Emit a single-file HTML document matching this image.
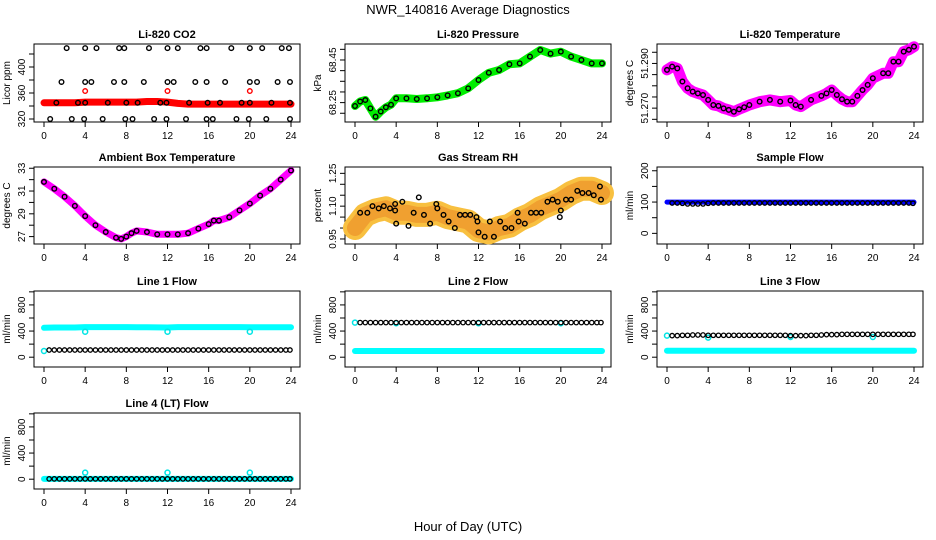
<!DOCTYPE html>
<html><head><meta charset="utf-8"><style>
html,body{margin:0;padding:0;background:#fff;}
svg{display:block;font-family:"Liberation Sans",sans-serif;}
</style></head><body>
<svg id="chart" width="936" height="540" viewBox="0 0 936 540" xmlns="http://www.w3.org/2000/svg">
<rect x="0" y="0" width="936" height="540" fill="#fff"/>
<text x="468" y="14" font-size="13" text-anchor="middle">NWR_140816  Average Diagnostics</text>
<text x="468" y="531" font-size="13" text-anchor="middle">Hour of Day (UTC)</text>
</svg>
<script>
// ---------- data ----------
const xTicks=[0,4,8,12,16,20,24];
const halfHours=[0.5,1,1.5,2,2.5,3,3.5,4,4.5,5,5.5,6,6.5,7,7.5,8,8.5,9,9.5,10,10.5,11,11.5,12,12.5,13,13.5,14,14.5,15,15.5,16,16.5,17,17.5,18,18.5,19,19.5,20,20.5,21,21.5,22,22.5,23,23.5,23.9];
const hourly=[0,1,2,3,4,5,6,7,8,9,10,11,12,13,14,15,16,17,18,19,20,21,22,23,24];

// CO2
const co2BandVals=[345,345,345,345,346,346,346,346,346,346,347,347,346,344,343,343,343,343,343,343,343,343,343,343,343];
const co2OutHours=[4,12,20];
const co2OutVals=[363,363,363];
const co2H429=[2.2,4,5.1,7.3,7.8,10.2,12,13,15.2,15.8,18.2,20,21.2,23.1,23.8];
const co2H377=[1.7,4,4.6,6.8,7.8,9.7,12,12.6,14.7,15.8,17.6,20,20.7,22.7,23.9];
const co2H345=[1.2,3.3,4,6.2,8,9.1,11.3,11.9,14.1,15.9,17.1,19.2,20,22.1,23.9];
const co2H320=[0.6,2.7,3.9,5.7,7.9,8.6,10.7,11.9,13.8,15.8,16.4,18.7,19.9,21.6,23.9];
const co2Levels=[429,377,345,320];
const co2Ticks=[320,340,360,380,400,420];
const co2Labels=[320,360,400];

// Pressure
const presHours=[0,0.5,1,1.5,2,2.5,3,3.5,4,5,6,7,8,9,10,11,12,13,14,15,16,17,18,19,20,21,22,23,24];
const presVals=[68.234,68.255,68.262,68.223,68.184,68.208,68.228,68.240,68.270,68.270,68.267,68.270,68.275,68.284,68.294,68.317,68.356,68.390,68.403,68.430,68.434,68.466,68.497,68.480,68.489,68.466,68.450,68.434,68.434];
const presTicks=[68.20,68.25,68.30,68.35,68.40,68.45,68.50];
const presLabels=[68.25,68.45];

// Li-820 temperature
const tempHours=[0,0.5,1,1.5,2,2.5,3,3.5,4,4.5,5,5.5,6,6.5,7,7.5,8,9,10,11,12,12.5,13,14,15,15.5,16,16.5,17,17.5,18,18.5,19,19.5,20,21,21.5,22,22.5,23,23.5,24];
const tempVals=[51.2871,51.2886,51.2878,51.2819,51.2789,51.2774,51.2766,51.2759,51.2737,51.2714,51.2710,51.2699,51.2692,51.2684,51.2695,51.2704,51.2714,51.2729,51.2737,51.2729,51.2734,51.2714,51.2707,51.2737,51.2755,51.2766,51.2781,51.2759,51.2740,51.2729,51.2729,51.2755,51.2781,51.2804,51.2834,51.2856,51.2856,51.2908,51.2908,51.2953,51.2961,51.2975];
const tempTicks=[51.265,51.270,51.275,51.280,51.285,51.290,51.295];
const tempLabels=[51.270,51.290];

// Ambient box temp
const ambHours=[0,1,2,3,4,5,6,7,7.5,8,8.5,9,10,11,12,13,14,15,16,16.5,17,18,19,20,21,22,23,24];
const ambVals=[31.8,31.2,30.5,29.7,28.8,28.0,27.4,26.9,26.8,27.0,27.3,27.5,27.4,27.2,27.2,27.2,27.3,27.7,28.1,28.4,28.4,28.7,29.3,29.9,30.6,31.2,32.0,32.8];
const ambTicks=[27,28,29,30,31,32,33];
const ambLabels=[27,29,31,33];

// Gas stream RH
const rhBandVals=[1.00,1.06,1.08,1.09,1.07,1.07,1.06,1.06,1.07,1.05,1.04,1.03,0.99,0.98,1.00,1.01,1.04,1.06,1.09,1.11,1.13,1.16,1.18,1.18,1.16];
const rhPtHours=[0.5,1.2,1.7,2.3,2.8,3.4,3.9,3.9,4,4.6,5.2,5.7,6.2,6.7,7.3,7.9,8,8.6,9.1,9.7,10.2,10.7,11.2,11.8,11.9,12,12.6,13.1,13.5,14.1,14.6,15.2,15.8,15.9,16.5,17.1,17.6,18.1,18.7,19.2,19.7,19.9,20,20.5,21,21.6,22.1,22.7,23.2,23.8,23.9];
const rhPtVals=[1.07,1.07,1.10,1.09,1.10,1.09,1.08,1.11,1.02,1.12,1.01,1.07,1.14,1.06,1.02,1.11,1.09,1.06,1.03,1.00,1.06,1.06,1.06,1.05,1.03,0.98,0.96,1.03,0.96,1.03,1.00,1.00,1.07,1.03,1.02,1.07,1.07,1.07,1.12,1.13,1.12,1.05,1.08,1.13,1.13,1.17,1.16,1.16,1.15,1.19,1.13];
const rhTicks=[0.95,1.00,1.05,1.10,1.15,1.20,1.25];
const rhLabels=[0.95,1.10,1.25];

// Sample flow
const sfBandVals=[100,100,100,100,100,100,100,100,100,100,100,100,100,100,100,100,100,100,100,100,100,100,100,100,100];
const sfBlackVals=[97,97,96,94,94,94,94,96,97,97,97,97,97,97,97,97,97,97,97,97,97,97,97,97,97,97,97,97,97,97,97,97,97,97,97,97,97,97,97,97,97,97,97,97,97,97,97,96];
const sfTicks=[0,50,100,150,200];
const sfLabels=[0,100,200];

// Line flows
const flowTicks=[0,200,400,600,800,1000];
const flowLabels=[0,400,800];
const l1CyanVals=[450,455,455,455,460,460,460,460,460,458,458,456,455,460,460,460,460,460,460,460,458,458,458,458,458];
const l1CyanOutHours=[0,4,12,20];
const l1CyanOutVals=[95,390,390,390];
const l1BlackVals=[110,110,110,110,110,110,110,110,110,110,110,110,110,110,110,110,110,110,110,110,110,110,110,110,110,110,110,110,110,110,110,110,110,110,110,110,110,110,110,110,110,110,110,110,110,110,110,110];
const l2CyanVals=[95,95,95,95,95,95,95,95,95,95,95,95,95,95,95,95,95,95,95,95,95,95,95,95,95];
const l2CyanOutHours=[0,4,12,20];
const l2CyanOutVals=[530,520,520,520];
const l2BlackVals=[530,530,530,530,530,530,530,530,530,530,530,530,530,530,530,530,530,530,530,530,530,530,530,530,530,530,530,530,530,530,530,530,530,530,530,530,530,530,530,530,530,530,530,530,530,530,530,530];
const l3CyanVals=[100,100,100,100,100,100,100,100,100,100,100,100,100,100,100,100,100,100,100,100,100,100,100,100,100];
const l3CyanOutHours=[0,4,12,20];
const l3CyanOutVals=[330,300,310,310];
const l3BlackVals=[330,330,335,335,340,340,340,335,335,335,335,335,335,335,335,335,335,335,335,335,335,335,335,330,330,330,330,335,335,340,345,345,345,350,350,350,350,350,350,350,350,350,350,350,350,350,350,350];
const l4CyanVals=[5,5,5,5,5,5,5,5,5,5,5,5,5,5,5,5,5,5,5,5,5,5,5,5,5];
const l4CyanOutHours=[4,12,20];
const l4CyanOutVals=[100,100,100];
const l4BlackVals=[5,5,5,5,5,5,5,5,5,5,5,5,5,5,5,5,5,5,5,5,5,5,5,5,5,5,5,5,5,5,5,5,5,5,5,5,5,5,5,5,5,5,5,5,5,5,5,5];

// ---------- drawing ----------
const NS='http://www.w3.org/2000/svg';
const svg=document.getElementById('chart');
const colL=[34,345,657], rowT=[44,167,291,413], rowH=[78,77,76,76], W=266;

function mk(tag,attrs,parent){const e=document.createElementNS(NS,tag);for(const k in attrs)e.setAttribute(k,attrs[k]);(parent||svg).appendChild(e);return e;}

function panel(name,col,row,title,ytitle,ymin,ymax,ticks,labels,fmt){
  const g=mk('g',{});
  
  
  const L=colL[col],T=rowT[row],H=rowH[row];
  const xs=h=>L+10+h*(247/24);
  const ys=v=>T+H-(v-ymin)/(ymax-ymin)*H;
  const box=mk('rect',{x:L,y:T,width:W,height:H,fill:'none',stroke:'#000','stroke-width':1},g);
  
  
  const t=mk('text',{x:L+W/2,y:T-6,'font-size':11,'font-weight':'bold','text-anchor':'middle'},g);
  t.textContent=title;
  
  
  const yt=mk('text',{x:0,y:0,'font-size':10,'text-anchor':'middle',transform:`translate(${L-24},${T+H/2}) rotate(-90)`},g);
  yt.textContent=ytitle;
  
  
  const xa=mk('g',{},g);
  
  
  xTicks.forEach(v=>{
    mk('line',{x1:xs(v),x2:xs(v),y1:T+H,y2:T+H+5,stroke:'#000'},xa);
    const tx=mk('text',{x:xs(v),y:T+H+17,'font-size':10,'text-anchor':'middle'},xa);
    tx.textContent=v;
    
    
  });
  const ya=mk('g',{},g);
  
  
  ticks.forEach(v=>{mk('line',{x1:L-5,x2:L,y1:ys(v),y2:ys(v),stroke:'#000'},ya);});
  labels.forEach(v=>{
    const tx=mk('text',{x:0,y:0,'font-size':10,'text-anchor':'middle',transform:`translate(${L-9},${ys(v)}) rotate(-90)`},ya);
    tx.textContent=fmt?fmt(v):v;
    
    
  });
  return {g,xs,ys};
}
function band(p,hours,vals,color,w,name,op){
  const pts=hours.map((h,i)=>p.xs(h).toFixed(1)+','+p.ys(vals[i]).toFixed(1)).join(' ');
  const pl=mk('polyline',{points:pts,fill:'none',stroke:color,'stroke-width':w,'stroke-linejoin':'round','stroke-linecap':'round','stroke-opacity':op||1},p.g);
  
  
}
function pts(p,hours,vals,color,r,sw,name){
  hours.forEach((h,i)=>{
    const c=mk('circle',{cx:p.xs(h),cy:p.ys(vals[i]),r:r,fill:'none',stroke:color,'stroke-width':sw},p.g);
    
    
  });
}

let p=panel('co2-panel',0,0,'Li-820 CO2','Licor ppm',315.4,435.4,co2Ticks,co2Labels);
band(p,hourly,co2BandVals,'#ff0000',7,'co2-band');
pts(p,co2OutHours,co2OutVals,'#ff0000',2.3,1.4,'co2-outlier');
[co2H429,co2H377,co2H345,co2H320].forEach((hs,k)=>pts(p,hs,hs.map(()=>co2Levels[k]),'#000',2.3,1.4,'co2-point'));

p=panel('pressure-panel',1,0,'Li-820 Pressure','kPa',68.159,68.525,presTicks,presLabels,v=>v.toFixed(2));
band(p,presHours,presVals,'#00ee00',8,'pressure-band');
pts(p,presHours,presVals,'#000',2.3,1.4,'pressure-point');

p=panel('temperature-panel',2,0,'Li-820 Temperature','degrees C',51.2638,51.2987,tempTicks,tempLabels,v=>v.toFixed(3));
band(p,tempHours,tempVals,'#ff00ff',11,'temperature-band');
pts(p,tempHours,tempVals,'#000',2.3,1.4,'temperature-point');

p=panel('ambient-temp-panel',0,1,'Ambient Box Temperature','degrees C',26.35,33.11,ambTicks,ambLabels);
band(p,ambHours,ambVals,'#ff00ff',7,'ambient-band');
pts(p,ambHours,ambVals,'#000',2.3,1.4,'ambient-point');

p=panel('rh-panel',1,1,'Gas Stream RH','percent',0.927,1.279,rhTicks,rhLabels,v=>v.toFixed(2));
band(p,hourly,rhBandVals,'#f8c040',24,'rh-band');
band(p,hourly,rhBandVals,'#f0a030',16,'rh-band-core');
pts(p,rhPtHours,rhPtVals,'#000',2.3,1.4,'rh-point');

p=panel('sample-flow-panel',2,1,'Sample Flow','ml/min',-34,212,sfTicks,sfLabels);
band(p,hourly,sfBandVals,'#0000ff',5,'sample-flow-band');
pts(p,halfHours,sfBlackVals,'#000',2.2,1.3,'sample-flow-point');

function flow(name,col,row,title,cyan,outH,outV,black){
  const q=panel(name,col,row,title,'ml/min',-150,1013,flowTicks,flowLabels);
  band(q,hourly,cyan,'#00ffff',6,'cyan-band');
  pts(q,outH,outV,'#00e5e5',2.5,1.5,'cyan-outlier');
  pts(q,halfHours,black,'#000',2.2,1.3,'flow-point');
}
flow('line1-flow-panel',0,2,'Line 1 Flow',l1CyanVals,l1CyanOutHours,l1CyanOutVals,l1BlackVals);
flow('line2-flow-panel',1,2,'Line 2 Flow',l2CyanVals,l2CyanOutHours,l2CyanOutVals,l2BlackVals);
flow('line3-flow-panel',2,2,'Line 3 Flow',l3CyanVals,l3CyanOutHours,l3CyanOutVals,l3BlackVals);
flow('line4-flow-panel',0,3,'Line 4 (LT) Flow',l4CyanVals,l4CyanOutHours,l4CyanOutVals,l4BlackVals);
</script>
</body></html>
